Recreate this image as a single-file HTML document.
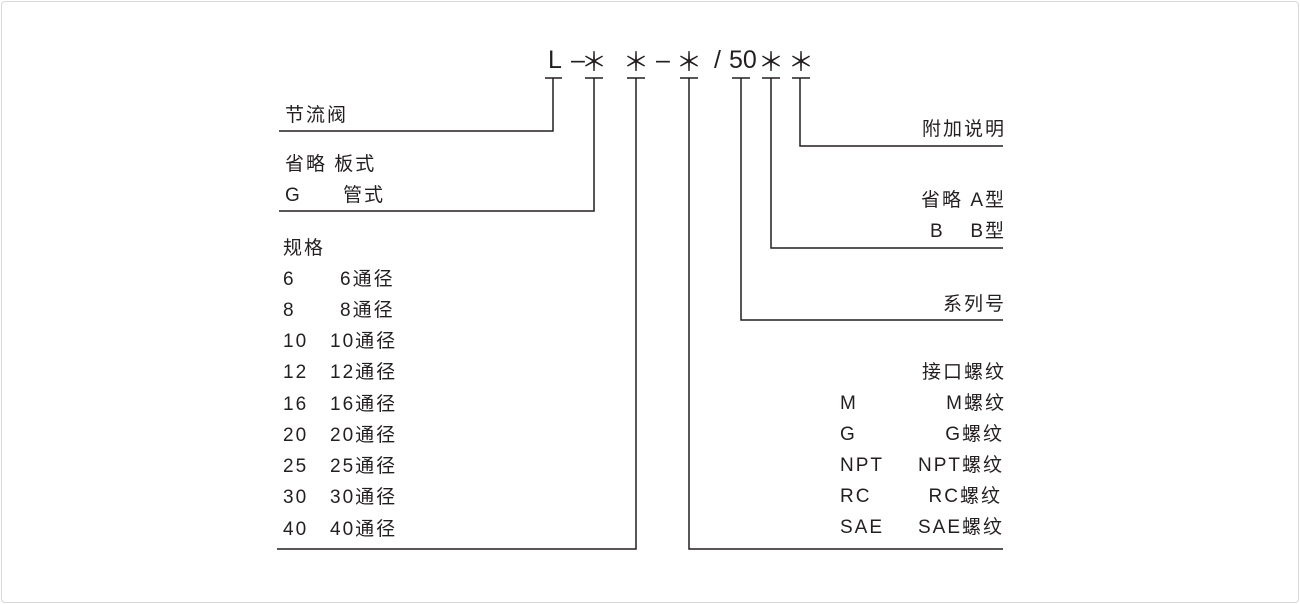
<!DOCTYPE html>
<html><head><meta charset="utf-8"><style>
body{margin:0;background:#fff}
#w{position:relative;width:1300px;height:604px;overflow:hidden;font-family:"Liberation Sans","Noto Sans CJK SC",sans-serif;color:#231f20}
#b{position:absolute;left:1px;top:1px;width:1296px;height:600px;border:1px solid #d8d8d8;border-radius:4px}
.t{position:absolute;font-size:19px;line-height:20px;letter-spacing:2px;white-space:pre}
.r{text-align:right}
.h{position:absolute;font-size:25px;line-height:28px;top:46px;letter-spacing:0}
.s{position:absolute;font-family:"Noto Sans CJK SC",sans-serif;font-size:26px;line-height:28px;top:47px}
</style></head><body><div id="w"><div id="b"></div>
<svg width="1300" height="604" style="position:absolute;left:0;top:0" fill="none" stroke="#231f20" stroke-width="1.5">
<g>
<path d="M545 78H562M585 78H603M627 78H645M680 78H698M732 78H750M762 78H780M792 78H810"/>
<path d="M553 78V131H279"/>
<path d="M594 78V211H279"/>
<path d="M636 78V549H277"/>
<path d="M689 78V549H1003"/>
<path d="M741 78V320H1003"/>
<path d="M771 78V248H1003"/>
<path d="M800 78V146H1003"/>
</g></svg>
<div class="h" style="left:548px">L</div>
<div class="h" style="left:571px">–</div>
<div class="s" style="left:581px">＊</div>
<div class="s" style="left:623px">＊</div>
<div class="h" style="left:656px">–</div>
<div class="s" style="left:676px">＊</div>
<div class="h" style="left:714px">/</div>
<div class="h" style="left:729px">50</div>
<div class="s" style="left:758px">＊</div>
<div class="s" style="left:788px">＊</div>

<div class="t" style="left:285px;top:106px">节流阀</div>
<div class="t" style="left:285px;top:155px">省略 板式</div>
<div class="t" style="left:285px;top:186px">G</div><div class="t" style="left:343px;top:186px">管式</div>
<div class="t" style="left:283px;top:239px">规格</div>
<div class="t" style="left:283px;top:270px">6</div><div class="t" style="left:340px;top:270px">6通径</div>
<div class="t" style="left:283px;top:301px">8</div><div class="t" style="left:340px;top:301px">8通径</div>
<div class="t" style="left:283px;top:332px">10</div><div class="t" style="left:330px;top:332px">10通径</div>
<div class="t" style="left:283px;top:363px">12</div><div class="t" style="left:330px;top:363px">12通径</div>
<div class="t" style="left:283px;top:395px">16</div><div class="t" style="left:330px;top:395px">16通径</div>
<div class="t" style="left:283px;top:426px">20</div><div class="t" style="left:330px;top:426px">20通径</div>
<div class="t" style="left:283px;top:457px">25</div><div class="t" style="left:330px;top:457px">25通径</div>
<div class="t" style="left:283px;top:488px">30</div><div class="t" style="left:330px;top:488px">30通径</div>
<div class="t" style="left:283px;top:520px">40</div><div class="t" style="left:330px;top:520px">40通径</div>

<div class="t r" style="right:294px;top:120px">附加说明</div>
<div class="t r" style="right:294px;top:191px">省略 A型</div>
<div class="t" style="left:930px;top:222px">B</div><div class="t r" style="right:294px;top:222px">B型</div>
<div class="t r" style="right:294px;top:295px">系列号</div>
<div class="t r" style="right:294px;top:363px">接口螺纹</div>
<div class="t" style="left:840px;top:394px">M</div><div class="t r" style="right:294px;top:394px">M螺纹</div>
<div class="t" style="left:840px;top:425px">G</div><div class="t r" style="right:296px;top:425px">G螺纹</div>
<div class="t" style="left:840px;top:456px">NPT</div><div class="t r" style="right:296px;top:456px">NPT螺纹</div>
<div class="t" style="left:840px;top:487px">RC</div><div class="t r" style="right:298px;top:487px">RC螺纹</div>
<div class="t" style="left:840px;top:518px">SAE</div><div class="t r" style="right:296px;top:518px">SAE螺纹</div>
</div></body></html>
